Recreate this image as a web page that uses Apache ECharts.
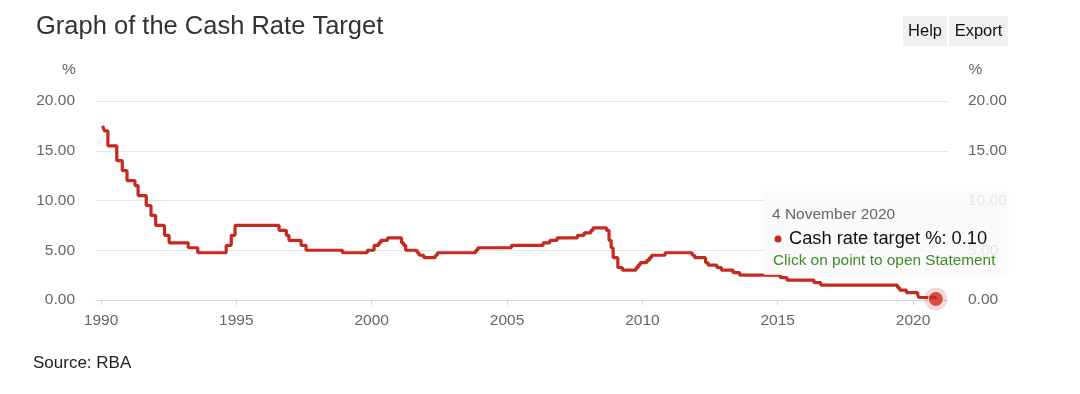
<!DOCTYPE html>
<html>
<head>
<meta charset="utf-8">
<script src="https://cdn.jsdelivr.net/npm/echarts@6/dist/echarts.min.js"></script>
<style>
html,body{margin:0;padding:0;background:#fff;}
#chart{width:1080px;height:394px;}
</style>
</head>
<body>
<div id="chart"></div>
<script>
const changeDates = ['1990-01-23','1990-02-15','1990-04-04','1990-08-02','1990-10-15','1990-12-18',
  '1991-04-04','1991-05-16','1991-09-03','1991-11-06','1992-01-08','1992-05-06','1992-07-08',
  '1993-03-23','1993-07-30','1994-08-17','1994-10-24','1994-12-14','1996-07-31','1996-11-06',
  '1996-12-11','1997-05-23','1997-07-30','1998-12-02','1999-11-03','2000-02-02','2000-04-05',
  '2000-05-03','2000-08-02','2001-02-07','2001-03-07','2001-04-04','2001-09-05','2001-10-03',
  '2001-12-05','2002-05-08','2002-06-05','2003-11-05','2003-12-03','2005-03-02','2006-05-03',
  '2006-08-02','2006-11-08','2007-08-08','2007-11-07','2008-02-06','2008-03-05','2008-09-03',
  '2008-10-08','2008-11-05','2008-12-03','2009-02-04','2009-04-08','2009-10-07','2009-11-04',
  '2009-12-02','2010-03-03','2010-04-07','2010-05-05','2010-11-03','2011-11-02','2011-12-07',
  '2012-05-02','2012-06-06','2012-10-03','2012-12-05','2013-05-08','2013-08-07','2015-02-04',
  '2015-05-06','2016-05-04','2016-08-03','2019-06-05','2019-07-03','2019-10-02','2020-03-04',
  '2020-03-20','2020-11-04'];
const cashRates = [17.5,17.0,15.5,14.0,13.0,12.0,
  11.5,10.5,9.5,8.5,7.5,6.5,5.75,
  5.25,4.75,5.5,6.5,7.5,7.0,6.5,
  6.0,5.5,5.0,4.75,5.0,5.5,5.75,
  6.0,6.25,5.75,5.5,5.0,4.75,4.5,
  4.25,4.5,4.75,5.0,5.25,5.5,5.75,
  6.0,6.25,6.5,6.75,7.0,7.25,7.0,
  6.0,5.25,4.25,3.25,3.0,3.25,3.5,
  3.75,4.0,4.25,4.5,4.75,4.5,4.25,
  3.75,3.5,3.25,3.0,2.75,2.5,2.25,
  2.0,1.75,1.5,1.25,1.0,0.75,0.5,
  0.25,0.1];
const yearTicks = [1990,1995,2000,2005,2010,2015,2020];
const rateTicks = [0,5,10,15,20];
const monthNames = ['January','February','March','April','May','June','July','August','September','October','November','December'];

function toYear(s){
  const d = new Date(s+'T00:00:00Z');
  const y = d.getUTCFullYear();
  const a = Date.UTC(y,0,1), b = Date.UTC(y+1,0,1);
  return y + (d.getTime()-a)/(b-a);
}
const lineData = changeDates.map((d,i)=>[toYear(d), cashRates[i]]);
const last = lineData[lineData.length-1];
const lastDate = new Date(changeDates[changeDates.length-1]+'T00:00:00Z');
const lastLabel = lastDate.getUTCDate()+' '+monthNames[lastDate.getUTCMonth()]+' '+lastDate.getUTCFullYear();
const lastRate = cashRates[cashRates.length-1].toFixed(2);

const FONT = '"Liberation Sans", Arial, Helvetica, sans-serif';
const RED = '#c62a1f';

const chart = echarts.init(document.getElementById('chart'));
chart.setOption({
  animation:false,
  textStyle:{fontFamily:FONT},
  grid:{left:96,right:132,top:101,bottom:94,containLabel:false},
  xAxis:{
    type:'value', min:1989.815, max:2021.29,
    axisLine:{show:true,lineStyle:{color:'#ccd6eb',width:1}},
    axisTick:{show:true,length:5,lineStyle:{color:'#ccd6eb'},customValues:yearTicks},
    axisLabel:{customValues:yearTicks,color:'#666',fontSize:15.5,fontFamily:FONT,margin:13,formatter:v=>String(Math.round(v))},
    splitLine:{show:false}
  },
  yAxis:[{
    type:'value', min:0, max:20, interval:5, position:'left',
    axisLine:{show:false}, axisTick:{show:false},
    axisLabel:{color:'#666',fontSize:15.5,fontFamily:FONT,margin:21,formatter:v=>v.toFixed(2),customValues:rateTicks},
    splitLine:{show:true,lineStyle:{color:'#e6e6e6',width:1}}
  },{
    type:'value', min:0, max:20, interval:5, position:'right',
    axisLine:{show:false}, axisTick:{show:false},
    axisLabel:{color:'#666',fontSize:15.5,fontFamily:FONT,margin:20,formatter:v=>v.toFixed(2),customValues:rateTicks},
    splitLine:{show:false}
  }],
  series:[{
    type:'line', name:'Cash rate target %', data:lineData, step:'end',
    showSymbol:false, lineStyle:{color:RED,width:3.2}, itemStyle:{color:RED}, z:3
  },{
    type:'scatter', data:[last], symbolSize:23, silent:true,
    itemStyle:{color:'rgba(198,42,31,0.22)'}, z:4
  },{
    type:'scatter', data:[last], symbolSize:15, silent:true,
    itemStyle:{color:'#d22b1f',borderColor:'#fff',borderWidth:1}, z:5
  }],
  graphic:[
    {type:'text',x:36,y:27,style:{text:'Graph of the Cash Rate Target',font:'25.5px '+FONT,fill:'#333',verticalAlign:'middle'}},
    {type:'rect',shape:{x:903,y:16,width:44,height:30},style:{fill:'#f0f0f0'}},
    {type:'text',x:925,y:31,style:{text:'Help',font:'16.5px '+FONT,fill:'#111',align:'center',verticalAlign:'middle'}},
    {type:'rect',shape:{x:949,y:16,width:59,height:30},style:{fill:'#f0f0f0'}},
    {type:'text',x:978.5,y:31,style:{text:'Export',font:'16.5px '+FONT,fill:'#111',align:'center',verticalAlign:'middle'}},
    {type:'text',x:69,y:70,style:{text:'%',font:'15.5px '+FONT,fill:'#666',align:'center',verticalAlign:'middle'}},
    {type:'text',x:975.5,y:70,style:{text:'%',font:'15.5px '+FONT,fill:'#666',align:'center',verticalAlign:'middle'}},
    {type:'text',x:33,y:363,style:{text:'Source: RBA',font:'17px '+FONT,fill:'#222',verticalAlign:'middle'}},
    {type:'group',z:100,children:[
      {type:'rect',z:100,shape:{x:763,y:193,width:244,height:82,r:3},style:{fill:'rgba(251,251,251,0.88)',shadowBlur:4,shadowColor:'rgba(0,0,0,0.06)'}},
      {type:'text',z:101,x:772,y:215,style:{text:lastLabel,font:'15.5px '+FONT,fill:'#666',verticalAlign:'middle'}},
      {type:'circle',z:101,shape:{cx:778,cy:239,r:3.5},style:{fill:RED}},
      {type:'text',z:101,x:789,y:239,style:{text:'Cash rate target %: '+lastRate,font:'18.3px '+FONT,fill:'#111',verticalAlign:'middle'}},
      {type:'text',z:101,x:773,y:261,style:{text:'Click on point to open Statement',font:'15.4px '+FONT,fill:'#3d8c27',verticalAlign:'middle'}}
    ]}
  ]
});
</script>
</body>
</html>
